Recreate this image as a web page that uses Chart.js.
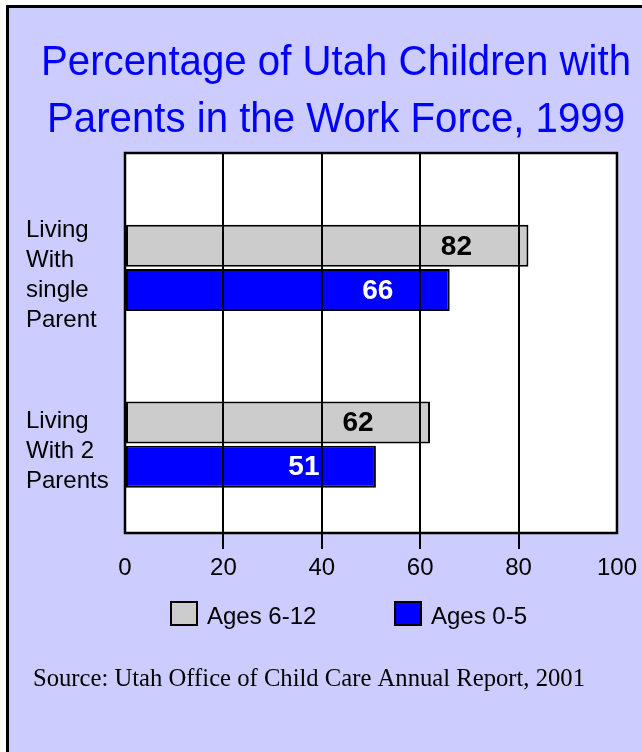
<!DOCTYPE html>
<html><head><meta charset="utf-8">
<script src="https://cdn.jsdelivr.net/npm/chart.js@4"></script>
<style>
html,body{margin:0;padding:0;background:#fff;width:642px;height:752px;overflow:hidden;}
#frame{position:absolute;left:6px;top:5px;right:0;bottom:0;background:#CCCCFF;border-left:3px solid #000;border-top:3px solid #000;}
#wrap{position:absolute;left:0;top:0;width:642px;height:752px;}
</style></head><body>
<div id="frame"></div>
<div id="wrap"><canvas id="c" width="642" height="752"></canvas></div>
<script>
const titleLines = ['Percentage of Utah Children with', 'Parents in the Work Force, 1999'];
const categories = [['Living', 'With', 'single', 'Parent'], ['Living', 'With 2', 'Parents']];
const seriesNames = ['Ages 6-12', 'Ages 0-5'];
const ages6to12 = [82, 62];
const ages0to5 = [66, 51];
const xTicks = [0, 20, 40, 60, 80, 100];
const sourceText = 'Source: Utah Office of Child Care Annual Report, 2001';

const SANS = "'Liberation Sans', Arial, sans-serif";
const SERIF = "'Liberation Serif', 'Times New Roman', serif";

const decor = {
  id: 'decor',
  beforeDraw(chart) {
    const {ctx, chartArea: a} = chart;
    ctx.save();
    ctx.fillStyle = '#fff';
    ctx.fillRect(a.left, a.top, a.right - a.left, a.bottom - a.top);
    ctx.restore();
  },
  afterDraw(chart) {
    const {ctx, chartArea: a} = chart;
    ctx.save();
    // plot frame
    ctx.strokeStyle = '#000';
    ctx.lineWidth = 2.5;
    ctx.strokeRect(a.left, a.top, a.right - a.left, a.bottom - a.top);

    // value labels
    const xs = chart.scales.x;
    ctx.font = "bold 28px " + SANS;
    ctx.textAlign = 'center';
    ctx.textBaseline = 'middle';
    chart.data.datasets.forEach((ds, di) => {
      const meta = chart.getDatasetMeta(di);
      meta.data.forEach((bar, i) => {
        const v = ds.data[i].x;
        ctx.fillStyle = di === 0 ? '#000' : '#fff';
        ctx.fillText(String(v), xs.getPixelForValue(v) - 72, bar.y + 1);
      });
    });

    // title
    ctx.fillStyle = '#0000FF';
    ctx.font = "43px " + SANS;
    ctx.textBaseline = 'alphabetic';
    ctx.textAlign = 'center';
    titleLines.forEach((t, i) => {
      ctx.save();
      ctx.translate(336, 75 + i * 57);
      ctx.scale(0.935, 1);
      ctx.fillText(t, 0, 0);
      ctx.restore();
    });

    // legend
    ctx.font = "24px " + SANS;
    ctx.textAlign = 'left';
    const legendX = [171, 395];
    chart.data.datasets.forEach((ds, di) => {
      const x = legendX[di];
      ctx.fillStyle = ds.backgroundColor;
      ctx.fillRect(x, 602, 26, 23);
      ctx.strokeStyle = '#000';
      ctx.lineWidth = 2;
      ctx.strokeRect(x, 602, 26, 23);
      ctx.fillStyle = '#000';
      ctx.fillText(ds.label, x + 36, 624);
    });

    // source
    ctx.font = "26px " + SERIF;
    const w = ctx.measureText(sourceText).width;
    ctx.save();
    ctx.translate(33, 686);
    ctx.scale(552 / w, 1);
    ctx.fillText(sourceText, 0, 0);
    ctx.restore();
    ctx.restore();
  }
};

new Chart(document.getElementById('c'), {
  type: 'bar',
  data: {
    datasets: [
      {
        label: seriesNames[0],
        data: ages6to12.map((v, i) => ({x: v, y: i})),
        backgroundColor: '#CCCCCC',
        borderColor: '#000',
        borderWidth: 2,
        borderSkipped: false
      },
      {
        label: seriesNames[1],
        data: ages0to5.map((v, i) => ({x: v, y: i})),
        backgroundColor: '#0000FF',
        borderColor: '#000',
        borderWidth: 2,
        borderSkipped: false
      }
    ]
  },
  options: {
    indexAxis: 'y',
    responsive: false,
    animation: false,
    devicePixelRatio: 1,
    categoryPercentage: 0.5,
    barPercentage: 0.95,
    layout: {padding: {top: 153, left: 26, right: 25, bottom: 159}},
    plugins: {
      legend: {display: false},
      title: {display: false},
      tooltip: {enabled: false}
    },
    scales: {
      x: {
        type: 'linear',
        min: 0,
        max: 100,
        afterBuildTicks: s => { s.ticks = xTicks.map(v => ({value: v})); },
        afterFit: s => { s.height = 60; },
        grid: {
          color: '#000',
          lineWidth: 2,
          tickLength: 16,
          z: 1,
          tickColor: ctx => (ctx.index === 0 || ctx.index === xTicks.length - 1) ? 'rgba(0,0,0,0)' : '#000'
        },
        border: {display: false},
        ticks: {
          color: '#000',
          font: {family: SANS, size: 24},
          padding: 5,
          maxRotation: 0,
          autoSkip: false
        }
      },
      y: {
        type: 'linear',
        reverse: true,
        offset: false,
        min: -0.65,
        max: 1.5,
        afterBuildTicks: s => { s.ticks = categories.map((c, i) => ({value: i})); },
        afterFit: s => { s.width = 99; },
        grid: {display: false, offset: false},
        border: {display: false},
        ticks: {
          color: '#000',
          font: {family: SANS, size: 24, lineHeight: 1.25},
          crossAlign: 'far',
          labelOffset: 7,
          autoSkip: false,
          callback: (v) => categories[v]
        }
      }
    }
  },
  plugins: [decor]
});
</script>
</body></html>
